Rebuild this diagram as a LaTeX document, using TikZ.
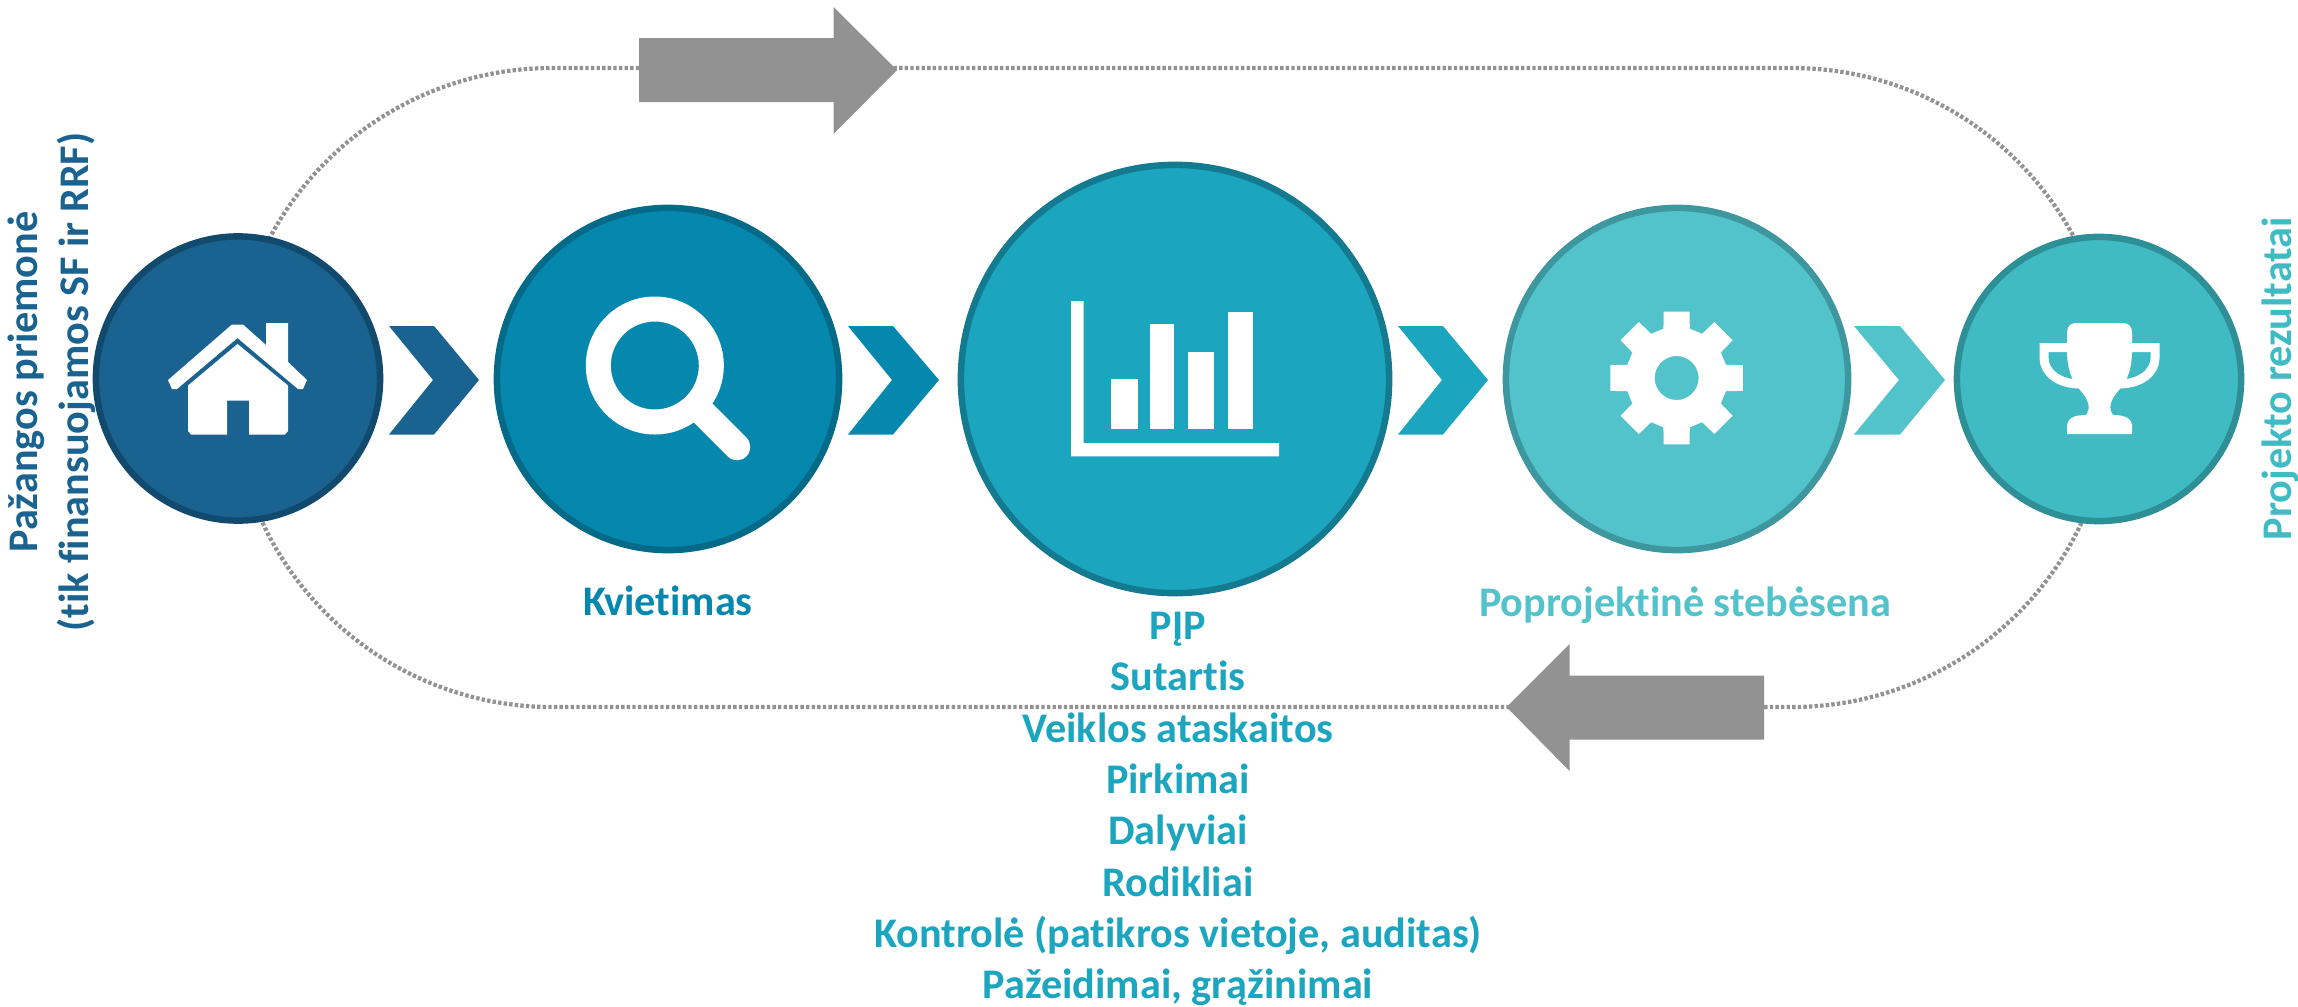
\documentclass[tikz,border=0pt]{standalone}
\usepackage{fontspec}
\setmainfont{Carlito}[Ligatures=NoCommon]
\definecolor{cA}{HTML}{1A6391}\definecolor{sA}{HTML}{124A6E}
\definecolor{cB}{HTML}{0587AE}\definecolor{sB}{HTML}{056A88}
\definecolor{cC}{HTML}{1CA5BF}\definecolor{sC}{HTML}{147A90}
\definecolor{cD}{HTML}{53C3CB}\definecolor{sD}{HTML}{3E969E}
\definecolor{cE}{HTML}{41BBC3}\definecolor{sE}{HTML}{2F8F96}
\definecolor{gr}{HTML}{929292}
\tikzset{
  x=0.01cm,y=-0.01cm,
  disc/.style={circle,draw,line width=0.065cm,inner sep=0pt,outer sep=0pt},
  caption/.style={font=\fontsize{12}{14.6}\selectfont\bfseries,align=center,inner sep=0pt},
  loopline/.style={draw=gr,line width=0.042cm,dash pattern=on 0.034cm off 0.022cm},
  bigarrow/.style={fill=gr},
  icon/.style={fill=white}
}
\begin{document}
\begin{tikzpicture}
\useasboundingbox (0,0) rectangle (2298,1006);
% dotted loop
\draw[loopline,rounded corners=3.195cm] (232.5,68) rectangle (2111.5,707);
% grey arrows
\fill[bigarrow] (639,38) -- (833.5,38) -- (833.5,7) -- (897,70) -- (833.5,134) -- (833.5,102) -- (639,102) -- cycle;
\fill[bigarrow] (1764,675.5) -- (1569.5,675.5) -- (1569.5,644) -- (1506.5,707) -- (1569.5,771) -- (1569.5,739.5) -- (1764,739.5) -- cycle;
% chevrons
\fill[cA] (389,326) -- (434,326) -- (479,380) -- (434,434.5) -- (389,434.5) -- (433,380) -- cycle;
\fill[cB] (848,326) -- (893,326) -- (939,380) -- (893,434.5) -- (848,434.5) -- (892,380) -- cycle;
\fill[cC] (1398,326) -- (1443,326) -- (1488,380) -- (1443,434.5) -- (1398,434.5) -- (1442,380) -- cycle;
\fill[cD] (1854,326) -- (1900,326) -- (1945,380) -- (1900,434.5) -- (1854,434.5) -- (1899,380) -- cycle;
% circles
\node[disc,fill=cA,draw=sA,minimum size=2.84cm] (home) at (238,378.5) {};
\node[disc,fill=cB,draw=sB,minimum size=3.42cm] (search) at (668,379) {};
\node[disc,fill=cC,draw=sC,minimum size=4.28cm] (chart) at (1175,379) {};
\node[disc,fill=cD,draw=sD,minimum size=3.42cm] (gear) at (1677,379) {};
\node[disc,fill=cE,draw=sE,minimum size=2.84cm] (cup) at (2099,379) {};
% house
\fill[icon] (168,380) -- (232,324.5) -- (243,324.5) -- (266,345) -- (266,323) -- (288,323) -- (288,362) -- (307,380) -- (303,389) -- (298,389) -- (237.5,338) -- (177,389) -- (172,389) -- cycle;
\fill[icon] (237.5,344) -- (288,385.5) -- (288,431) -- (285,434.5) -- (249,434.5) -- (249,400.5) -- (227,400.5) -- (227,434.5) -- (191,434.5) -- (188,431) -- (188,385.5) -- cycle;
% magnifier
\fill[icon,even odd rule] (654.8,365.5) circle[radius=69] (654.8,365.5) circle[radius=44];
\draw[white,line width=0.265cm,line cap=round] (700,410) -- (737,447);
% chart
\fill[icon] (1071,301) -- (1083.7,301) -- (1083.7,443) -- (1279,443) -- (1279,456.4) -- (1071,456.4) -- cycle;
\fill[icon] (1110.7,378.6) rectangle (1137.7,429.3);
\fill[icon] (1150.3,324.3) rectangle (1174.4,429.3);
\fill[icon] (1188,351.8) rectangle (1214,429.3);
\fill[icon] (1227.8,312) rectangle (1252.5,429.3);
% gear
\begin{scope}[shift={(1676.6,378)}]
\fill[icon,even odd rule] (-11:67.5) \foreach \a in {0,45,...,315}{ -- (\a-11:67.5) -- (\a+11:67.5) -- (\a+15:51) -- (\a+30:51)} -- cycle (0,0) circle[radius=22];
\end{scope}
% trophy
\fill[icon] (2067,333) .. controls (2067,327) and (2070,323) .. (2076,323) -- (2123,323) .. controls (2129,323) and (2132,327) .. (2132,333) -- (2132,350) .. controls (2132,368) and (2128,380) .. (2119,390) .. controls (2110,400) and (2108,408) .. (2113,415) .. controls (2125,415) and (2132,418) .. (2132,427) -- (2132,434) -- (2067,434) -- (2067,427) .. controls (2067,418) and (2074,415) .. (2086,415) .. controls (2091,408) and (2089,400) .. (2080,390) .. controls (2071,380) and (2067,368) .. (2067,350) -- cycle;
\draw[white,line width=0.09cm] (2070,347.5) -- (2044,347.5) -- (2044,358) .. controls (2044,372) and (2058,384) .. (2080,384);
\draw[white,line width=0.09cm] (2129,347.5) -- (2155,347.5) -- (2155,358) .. controls (2155,372) and (2141,384) .. (2119,384);
% texts
\node[caption,text=cA,rotate=90] (t1) at (52,382) {Pažangos priemonė\\(tik finansuojamos SF ir RRF)};
\node[caption,text=cB,anchor=base] (t2) at (668,615) {Kvietimas};
\node[caption,text=cC,anchor=north] (t3) at (1178,611.5) {PĮP\\Sutartis\\Veiklos ataskaitos\\Pirkimai\\Dalyviai\\Rodikliai\\Kontrolė (patikros vietoje, auditas)\\Pažeidimai, grąžinimai};
\node[caption,text=cD,anchor=base] (t4) at (1685,616) {Poprojektinė stebėsena};
\node[caption,text=cE,rotate=90,anchor=base] (t5) at (2291,378.5) {Projekto rezultatai};
\end{tikzpicture}
\end{document}
